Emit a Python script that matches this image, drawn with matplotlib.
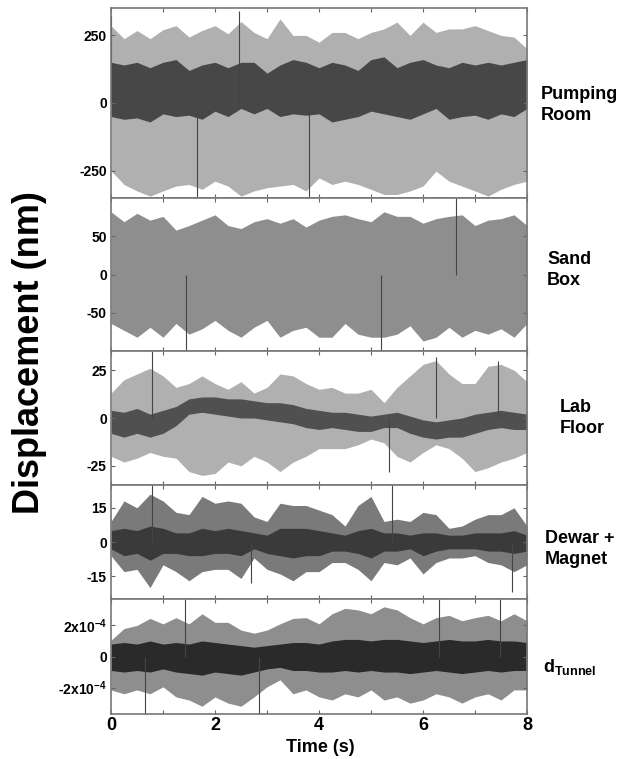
import numpy as np
import matplotlib
matplotlib.use('Agg')
import matplotlib.pyplot as plt

plt.rcParams['font.family'] = ['Liberation Sans', 'DejaVu Sans']
plt.rcParams['mathtext.default'] = 'regular'

# time base of the envelope readings (s)
t = np.arange(0, 8.001, 0.25)

# Pumping Room (nm): outer envelope and dark core
pump_hi = [285, 237, 267, 237, 270, 285, 243, 267, 285, 255, 300, 260, 237, 310, 249, 249, 224,
           260, 260, 237, 260, 273, 298, 249, 298, 260, 273, 273, 285, 267, 249, 243, 200]
pump_lo = [-250, -300, -324, -343, -324, -306, -300, -318, -288, -306, -343, -324, -312, -306, -300, -324, -276,
           -300, -288, -300, -318, -337, -337, -324, -306, -251, -288, -306, -324, -343, -318, -300, -288]
pump_core_hi = [150, 140, 150, 130, 150, 160, 120, 140, 150, 130, 150, 150, 110, 140, 160, 150, 130,
                150, 140, 120, 160, 170, 130, 150, 160, 140, 130, 150, 140, 150, 140, 150, 160]
pump_core_lo = [-50, -60, -55, -70, -40, -50, -45, -60, -30, -50, -20, -40, -20, -50, -40, -45, -40,
                -70, -60, -50, -30, -40, -50, -60, -40, -20, -60, -50, -45, -60, -40, -50, -20]

# Sand Box (nm)
sand_hi = [82, 69, 80, 71, 76, 58, 64, 71, 78, 64, 60, 69, 73, 67, 73, 62, 71,
           76, 78, 73, 69, 82, 76, 76, 67, 73, 76, 78, 64, 71, 73, 78, 64]
sand_lo = [-64, -73, -82, -69, -82, -64, -78, -71, -60, -73, -82, -69, -60, -82, -73, -69, -82,
           -82, -64, -78, -82, -82, -78, -67, -87, -82, -69, -82, -73, -78, -71, -82, -64]

# Lab Floor (nm)
lab_hi = [13, 20, 23, 26, 22, 16, 18, 22, 18, 15, 19, 13, 16, 23, 22, 18, 15,
          16, 13, 13, 15, 8, 16, 22, 28, 30, 23, 18, 18, 27, 28, 25, 19]
lab_lo = [-20, -23, -21, -18, -20, -21, -28, -30, -29, -23, -25, -20, -23, -28, -23, -20, -16,
          -16, -16, -14, -11, -13, -20, -23, -18, -14, -16, -21, -28, -26, -23, -21, -18]
lab_core_hi = [4, 3, 5, 2, 4, 6, 10, 11, 11, 10, 10, 9, 8, 8, 7, 5, 4,
               3, 3, 2, 1, 2, 3, 1, -1, -2, -1, 0, 2, 3, 4, 3, 2]
lab_core_lo = [-8, -10, -8, -10, -8, -4, 2, 3, 2, 1, 0, 0, -1, -2, -3, -5, -6,
               -5, -6, -7, -7, -5, -5, -8, -10, -11, -10, -10, -8, -6, -5, -6, -6]

# Dewar + Magnet (nm)
dewar_hi = [9, 18, 15, 21, 18, 13, 12, 20, 17, 18, 17, 11, 9, 17, 16, 16, 14,
            12, 7, 16, 20, 9, 10, 9, 13, 12, 6, 7, 10, 12, 12, 15, 7]
dewar_lo = [-6, -13, -12, -20, -10, -13, -17, -13, -12, -12, -16, -7, -12, -14, -17, -13, -13,
            -9, -9, -12, -17, -9, -10, -7, -14, -9, -7, -7, -6, -9, -10, -13, -10]
dewar_core_hi = [5, 6, 5, 7, 6, 4, 4, 6, 5, 6, 5, 4, 3, 6, 6, 6, 5,
                 4, 3, 5, 6, 4, 4, 3, 4, 4, 3, 3, 4, 4, 4, 5, 3]
dewar_core_lo = [-3, -6, -5, -8, -5, -5, -6, -6, -5, -5, -6, -3, -5, -6, -7, -6, -6,
                 -4, -4, -5, -7, -4, -4, -3, -6, -4, -3, -3, -3, -4, -4, -5, -4]

# d_Tunnel (nm)
tun_hi = [1.05e-4, 1.8e-4, 2.0e-4, 2.45e-4, 2.1e-4, 2.5e-4, 2.1e-4, 2.75e-4, 2.2e-4, 2.2e-4, 1.7e-4,
          1.5e-4, 1.7e-4, 2.1e-4, 2.45e-4, 2.5e-4, 2.1e-4, 2.75e-4, 3.1e-4, 3.0e-4, 2.75e-4, 3.2e-4,
          3.0e-4, 2.5e-4, 2.1e-4, 2.5e-4, 2.65e-4, 2.3e-4, 2.5e-4, 2.65e-4, 2.3e-4, 2.75e-4, 2.3e-4]
tun_lo = [-2.15e-4, -2.4e-4, -2.15e-4, -2.4e-4, -1.95e-4, -2.6e-4, -2.8e-4, -3.2e-4, -2.6e-4, -3.0e-4, -3.2e-4,
          -2.6e-4, -1.95e-4, -1.5e-4, -2.4e-4, -2.15e-4, -2.6e-4, -2.8e-4, -2.4e-4, -2.6e-4, -2.15e-4, -2.8e-4,
          -2.6e-4, -3.0e-4, -2.8e-4, -2.4e-4, -2.6e-4, -3.0e-4, -2.6e-4, -2.4e-4, -2.8e-4, -2.15e-4, -2.15e-4]
tun_core_hi = [0.8e-4, 0.9e-4, 0.8e-4, 1.0e-4, 0.8e-4, 0.9e-4, 0.8e-4, 1.0e-4, 0.9e-4, 0.8e-4, 0.7e-4,
               0.6e-4, 0.7e-4, 0.8e-4, 0.9e-4, 0.9e-4, 0.8e-4, 1.0e-4, 1.1e-4, 1.1e-4, 1.0e-4, 1.1e-4,
               1.1e-4, 1.0e-4, 0.9e-4, 1.0e-4, 1.1e-4, 1.0e-4, 1.0e-4, 1.1e-4, 1.0e-4, 1.0e-4, 0.9e-4]
tun_core_lo = [-0.9e-4, -1.0e-4, -0.9e-4, -1.0e-4, -0.8e-4, -1.0e-4, -1.1e-4, -1.2e-4, -1.0e-4, -1.1e-4, -1.2e-4,
               -1.0e-4, -0.8e-4, -0.7e-4, -0.9e-4, -0.9e-4, -1.0e-4, -1.0e-4, -0.9e-4, -1.0e-4, -0.9e-4, -1.0e-4,
               -1.0e-4, -1.1e-4, -1.0e-4, -0.9e-4, -1.0e-4, -1.1e-4, -1.0e-4, -0.9e-4, -1.0e-4, -0.9e-4, -0.9e-4]

# single spikes seen in each trace: (time, value)
pump_spikes = [(2.47, 340), (0.0, 320), (3.8, -350), (1.65, -350)]
sand_spikes = [(6.63, 100), (1.45, -100), (5.2, -100)]
lab_spikes = [(0.78, 35), (6.25, 32), (7.45, 30), (5.35, -28)]
dewar_spikes = [(0.78, 25), (5.4, 25), (7.72, -22), (2.7, -18)]
tun_spikes = [(0.65, -3.7e-4), (1.42, 3.7e-4), (6.3, 3.7e-4), (7.48, 3.7e-4), (2.85, -3.7e-4)]

names = ['Pumping\nRoom', 'Sand\nBox', 'Lab\nFloor', 'Dewar +\nMagnet', r'd$_{Tunnel}$']
yticks = [[-250, 0, 250], [-50, 0, 50], [-25, 0, 25], [-15, 0, 15], [-2e-4, 0, 2e-4]]
yticklabels = [['-250', '0', '250'], ['-50', '0', '50'], ['-25', '0', '25'], ['-15', '0', '15'],
               [r'-2x10$^{-4}$', '0', r'2x10$^{-4}$']]
ylims = [350, 100, 35, 25, 3.7e-4]
xticks = [0, 2, 4, 6, 8]

outer = [(pump_hi, pump_lo), (sand_hi, sand_lo), (lab_hi, lab_lo), (dewar_hi, dewar_lo), (tun_hi, tun_lo)]
cores = [(pump_core_hi, pump_core_lo), None, (lab_core_hi, lab_core_lo),
         (dewar_core_hi, dewar_core_lo), (tun_core_hi, tun_core_lo)]
spikes = [pump_spikes, sand_spikes, lab_spikes, dewar_spikes, tun_spikes]
outer_col = ['#b0b0b0', '#8e8e8e', '#b0b0b0', '#7a7a7a', '#8e8e8e']
core_col = ['#474747', None, '#505050', '#3a3a3a', '#2a2a2a']

# panel boxes in figure pixels (top, bottom)
rows = [(8, 198), (198, 351), (351, 485), (485, 599), (599, 714)]
W, H = 635, 759
label_pos = [(541, 105), (547, 270), (560, 418), (545, 549), (543, 667)]

fig = plt.figure(figsize=(W / 100, H / 100), dpi=100)
for i in range(5):
    top, bot = rows[i]
    ax = fig.add_axes([111 / W, 1 - bot / H, 416 / W, (bot - top) / H])
    hi, lo = outer[i]
    ax.fill_between(t, lo, hi, color=outer_col[i], lw=0)
    if cores[i] is not None:
        chi, clo = cores[i]
        ax.fill_between(t, clo, chi, color=core_col[i], lw=0)
    for (st, sv) in spikes[i]:
        ax.vlines(st, 0, sv, color='#444444', lw=0.8)
    ax.set_xlim(0, 8)
    ax.set_ylim(-ylims[i], ylims[i])
    ax.set_yticks(yticks[i])
    ax.set_yticklabels(yticklabels[i], fontsize=10, fontweight='bold')
    ax.set_xticks(xticks)
    ax.set_xticks([1, 3, 5, 7], minor=True)
    ax.tick_params(which='both', direction='in', top=True, right=True, length=3, width=0.8,
                   color='#666666', pad=3)
    for s in ax.spines.values():
        s.set_color('#777777')
        s.set_linewidth(1.2)
    if i < 4:
        ax.set_xticklabels([])
    else:
        ax.set_xticklabels([str(x) for x in xticks], fontsize=13, fontweight='bold')
        ax.tick_params(axis='x', pad=2)
    lx, ly = label_pos[i]
    fig.text(lx / W, 1 - ly / H, names[i], fontsize=13, fontweight='bold', va='center', ha='left',
             linespacing=1.3)

fig.text(320 / W, 1 - 747 / H, 'Time (s)', fontsize=13, fontweight='bold', ha='center', va='center')
fig.text(30 / W, 1 - 353 / H, 'Displacement (nm)', fontsize=26, fontweight='bold', rotation=90,
         ha='center', va='center')

fig.savefig('out.png', dpi=100)
